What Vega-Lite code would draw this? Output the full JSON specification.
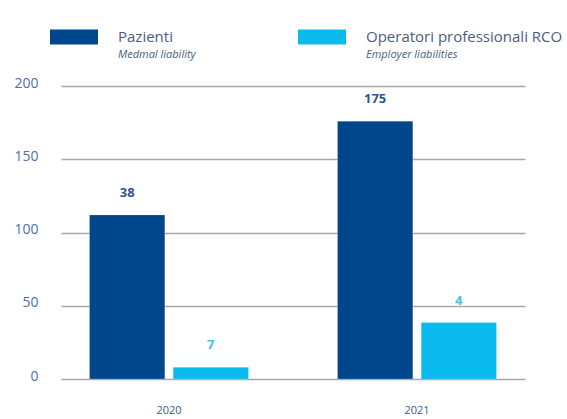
{
  "$schema": "https://vega.github.io/schema/vega-lite/v6.json",
  "width": 464,
  "height": 293,
  "autosize": {"type": "none"},
  "padding": {"left": 61, "top": 86, "right": 42, "bottom": 40},
  "background": "white",
  "config": {
    "view": {"stroke": null},
    "font": "Open Sans"
  },
  "data": {
    "values": [
      {"anno": "2020", "serie": "Pazienti", "sub": "Medmal liability", "valore": 112, "etichetta": "38"},
      {"anno": "2020", "serie": "Operatori professionali RCO", "sub": "Employer liabilities", "valore": 8, "etichetta": "7"},
      {"anno": "2021", "serie": "Pazienti", "sub": "Medmal liability", "valore": 176, "etichetta": "175"},
      {"anno": "2021", "serie": "Operatori professionali RCO", "sub": "Employer liabilities", "valore": 38.5, "etichetta": "4"}
    ]
  },
  "encoding": {
    "x": {
      "field": "anno", "type": "nominal",
      "scale": {"paddingInner": 0.359, "paddingOuter": 0.115},
      "axis": {"title": null, "labelAngle": 0, "domain": false, "ticks": false, "labelPadding": 25, "labelFontSize": 11, "labelColor": "#3a5a98"}
    },
    "xOffset": {
      "field": "serie", "type": "nominal",
      "scale": {"domain": ["Pazienti", "Operatori professionali RCO"], "paddingInner": 0.1, "paddingOuter": 0}
    },
    "y": {
      "field": "valore", "type": "quantitative",
      "scale": {"domain": [0, 200], "nice": false},
      "axis": {"title": null, "values": [0, 50, 100, 150, 200], "domain": false, "ticks": false, "labelPadding": 23, "labelFontSize": 14, "labelColor": "#4a6fae", "labelOffset": -3, "gridColor": "#a8a8a8", "gridWidth": 1.5}
    }
  },
  "layer": [
    {
      "mark": {"type": "bar", "stroke": "#ffffff", "strokeWidth": 0.5, "strokeOpacity": 0.4},
      "encoding": {
        "color": {
          "field": "serie", "type": "nominal",
          "scale": {"domain": ["Pazienti", "Operatori professionali RCO"], "range": ["#00468a", "#0bbbee"]},
          "legend": {
            "title": null, "orient": "none", "direction": "horizontal",
            "legendX": -11, "legendY": -73, "padding": 0,
            "symbolType": "M-1,-0.3125H1V0.3125H-1Z", "symbolSize": 2304, "symbolStrokeWidth": 0,
            "labelOffset": 20, "labelFontSize": 15, "labelColor": "#4b5d7e", "columnPadding": 125, "labelLimit": 400
          }
        },
        "opacity": {
          "field": "sub", "type": "nominal",
          "scale": {"domain": ["Medmal liability", "Employer liabilities"], "range": [1, 1]},
          "legend": {
            "title": null, "orient": "none", "direction": "horizontal",
            "legendX": -11, "legendY": -55, "padding": 0,
            "symbolType": "M-1,-0.3125H1V0.3125H-1Z", "symbolSize": 2304, "symbolOpacity": 0, "symbolStrokeWidth": 0, "symbolFillColor": "white",
            "labelOffset": 20, "labelFontSize": 11, "labelFontStyle": "italic", "labelColor": "#4b5d7e", "columnPadding": 102, "labelLimit": 400
          }
        }
      }
    },
    {
      "mark": {"type": "text", "baseline": "bottom", "dy": -15, "fontSize": 13, "fontWeight": "bold"},
      "encoding": {
        "text": {"field": "etichetta"},
        "color": {
          "field": "serie", "type": "nominal",
          "scale": {"domain": ["Pazienti", "Operatori professionali RCO"], "range": ["#35548c", "#45c0f0"]},
          "legend": null
        }
      }
    }
  ],
  "resolve": {"scale": {"color": "independent"}}
}
